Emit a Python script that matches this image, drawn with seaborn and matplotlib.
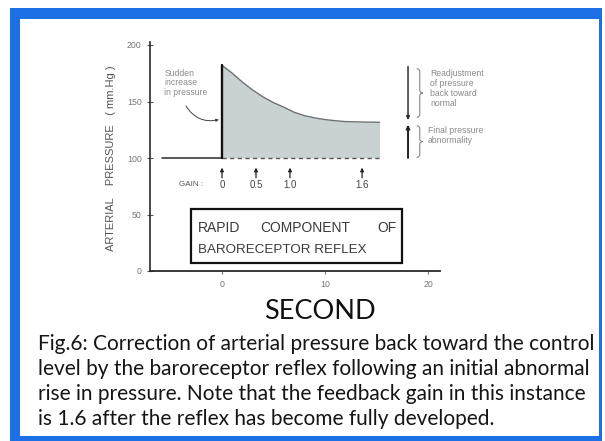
import matplotlib
matplotlib.use("Agg")
import matplotlib.pyplot as plt
import seaborn as sns
import pandas as pd
from matplotlib.patches import Rectangle, PathPatch
from matplotlib.path import Path

# ---------------- data ----------------
baseline_time = [-5.8, 0.0]
baseline_pressure = [100, 100]
decay_time = [0, 1, 2, 3, 4, 5, 6, 7, 8, 9, 10, 11, 12, 13, 14, 15.3]
decay_pressure = [182, 175, 167, 160, 154, 149, 145, 140.5, 137.5, 135.5,
                  134, 133, 132.2, 132, 131.8, 131.6]
control_level = 100
gain_times = [0, 3.3, 6.6, 13.6]
gain_labels = ["0", "0.5", "1.0", "1.6"]
y_ticks = [0, 50, 100, 150, 200]
x_ticks = [0, 10, 20]

caption_lines = [
    "Fig.6: Correction of arterial pressure back toward the control",
    "level by the baroreceptor reflex following an initial abnormal",
    "rise in pressure. Note that the feedback gain in this instance",
    "is 1.6 after the reflex has become fully developed.",
]

sns.set_style("ticks")
plt.rcParams["font.family"] = ["Liberation Sans", "DejaVu Sans"]

W, H = 605, 441
fig = plt.figure(figsize=(W / 100, H / 100), dpi=100)
fig.patch.set_facecolor("white")


def fx(px):
    return px / W


def fy(py):
    return (H - py) / H


# blue frame
blue = "#1c6fe4"
for (x0, y0, x1, y1) in [(10, 8, 602, 19), (10, 8, 20, 441), (10, 436, 602, 441), (599, 8, 602, 441)]:
    fig.add_artist(Rectangle((fx(x0), fy(y1)), fx(x1) - fx(x0), fy(y0) - fy(y1),
                             transform=fig.transFigure, color=blue, lw=0, zorder=0))

# axes placed so that t=0 -> px 222, 10 s ~ 103 px; P=0 -> py 271, 1.13 px / mmHg
x_lo, x_hi = -7.0, 21.2
y_lo, y_hi = 0, 203
left_px = 222 + x_lo * 10.3
right_px = 222 + x_hi * 10.3
bottom_py = 271
top_py = 271 - y_hi * 1.13
ax = fig.add_axes([fx(left_px), fy(bottom_py), fx(right_px) - fx(left_px), fy(top_py) - fy(bottom_py)])
ax.set_facecolor("none")

base_df = pd.DataFrame({"t": baseline_time, "p": baseline_pressure})
decay_df = pd.DataFrame({"t": decay_time, "p": decay_pressure})

ax.fill_between(decay_df["t"], control_level, decay_df["p"], color="#c8d2d3", lw=0, zorder=1)
sns.lineplot(data=base_df, x="t", y="p", ax=ax, color="#2a2a2a", lw=1.1, zorder=3)
sns.lineplot(data=decay_df, x="t", y="p", ax=ax, color="#6d7373", lw=1.0, zorder=3)
ax.plot([decay_time[0], decay_time[0]], [control_level, decay_pressure[0]], color="#111111", lw=1.7, zorder=4)
ax.plot([decay_time[0], decay_time[-1]], [control_level, control_level], color="#555555",
        lw=1.0, ls=(0, (3, 2.5)), zorder=3)

ax.set_xlim(x_lo, x_hi)
ax.set_ylim(y_lo, y_hi)
ax.set_xticks(x_ticks)
ax.set_yticks(y_ticks)
ax.set_xlabel("")
ax.set_ylabel("ARTERIAL    PRESSURE   ( mm.Hg )", fontsize=8, color="#555555")
ax.yaxis.set_label_coords(-0.118, 0.49)
sns.despine(ax=ax, top=True, right=True)
ax.spines["left"].set_color("#2a2a2a")
ax.spines["left"].set_linewidth(1.2)
ax.spines["bottom"].set_color("#2a2a2a")
ax.spines["bottom"].set_linewidth(1.3)
ax.tick_params(axis="y", direction="inout", length=4, width=0.8, labelsize=6.3, labelcolor="#777777", pad=4, color="#555555")
ax.tick_params(axis="x", direction="out", length=2.5, width=0.8, labelsize=6.3, labelcolor="#777777", pad=4, color="#777777")

arrow_kw = dict(shrinkA=0, shrinkB=0)

# gain markers
for t, lab in zip(gain_times, gain_labels):
    ax.annotate("", xy=(t, 91.5), xytext=(t, 82.5),
                arrowprops=dict(arrowstyle="-|>", color="#222222", lw=0.9, mutation_scale=5, **arrow_kw))
    ax.text(t, 76.3, lab, ha="center", va="center", fontsize=7, color="#444444")
ax.text(-3.0, 76.3, "GAIN :", ha="center", va="center", fontsize=5.8, color="#555555")

# "Sudden increase in pressure"
ax.text(-5.6, 179, "Sudden\nincrease\nin pressure", ha="left", va="top", fontsize=6.2,
        color="#8a8a8a", linespacing=1.1)
ax.annotate("", xy=(-0.3, 134), xytext=(-3.5, 146),
            arrowprops=dict(arrowstyle="-|>", color="#444444", lw=0.7, mutation_scale=4,
                            connectionstyle="arc3,rad=0.35", **arrow_kw))

# right-hand annotation
xr = 18.06
ax.annotate("", xy=(xr, 133.5), xytext=(xr, 181),
            arrowprops=dict(arrowstyle="-|>", color="#333333", lw=1.1, mutation_scale=5, **arrow_kw),
            annotation_clip=False)
ax.annotate("", xy=(xr, 129.5), xytext=(xr, 100),
            arrowprops=dict(arrowstyle="-|>", color="#222222", lw=1.4, mutation_scale=5, **arrow_kw),
            annotation_clip=False)


def brace(x0, w, ybot, ytop, d=2.5):
    xm = x0 + w / 2
    xe = x0 + w
    mid = (ybot + ytop) / 2
    verts = [(x0, ytop), (xm, ytop), (xm, ytop - d), (xm, mid + d), (xm, mid), (xe, mid),
             (xm, mid), (xm, mid - d), (xm, ybot + d), (xm, ybot), (x0, ybot)]
    codes = [Path.MOVETO, Path.CURVE3, Path.CURVE3, Path.LINETO, Path.CURVE3, Path.CURVE3,
             Path.CURVE3, Path.CURVE3, Path.LINETO, Path.CURVE3, Path.CURVE3]
    ax.add_patch(PathPatch(Path(verts, codes), fill=False, ec="#888888", lw=0.8, clip_on=False))


brace(18.9, 0.6, 136, 179)
brace(18.9, 0.6, 100.5, 128.5)
ax.text(20.2, 179, "Readjustment\nof pressure\nback toward\nnormal", ha="left", va="top",
        fontsize=6.2, color="#8a8a8a", linespacing=1.15, clip_on=False)
ax.text(20.0, 128, "Final pressure\nabnormality", ha="left", va="top",
        fontsize=6.2, color="#8a8a8a", linespacing=1.15, clip_on=False)

# inner title box
ax.add_patch(Rectangle((-3.0, 7.0), 20.5, 48.0, fill=False, ec="#111111", lw=1.6, zorder=5))
ax.text(-2.33, 37.7, "RAPID", ha="left", va="center", fontsize=10, color="#3a3a3a")
ax.text(3.69, 37.7, "COMPONENT", ha="left", va="center", fontsize=10, color="#3a3a3a")
ax.text(15.05, 37.7, "OF", ha="left", va="center", fontsize=10, color="#3a3a3a")
ax.text(-2.33, 19.0, "BARORECEPTOR REFLEX", ha="left", va="center", fontsize=9.6, color="#3a3a3a")

# x-axis title and caption
fig.text(fx(320), fy(319.3), "SECOND", ha="center", va="baseline", fontsize=19.5,
         family=["Lato", "DejaVu Sans"], color="#111111")
for i, line in enumerate(caption_lines):
    fig.text(fx(38), fy(350 + 25 * i), line, ha="left", va="baseline", fontsize=15,
             family=["Lato", "DejaVu Sans"], color="#151515")

fig.savefig("out.png", dpi=100, facecolor="white")
